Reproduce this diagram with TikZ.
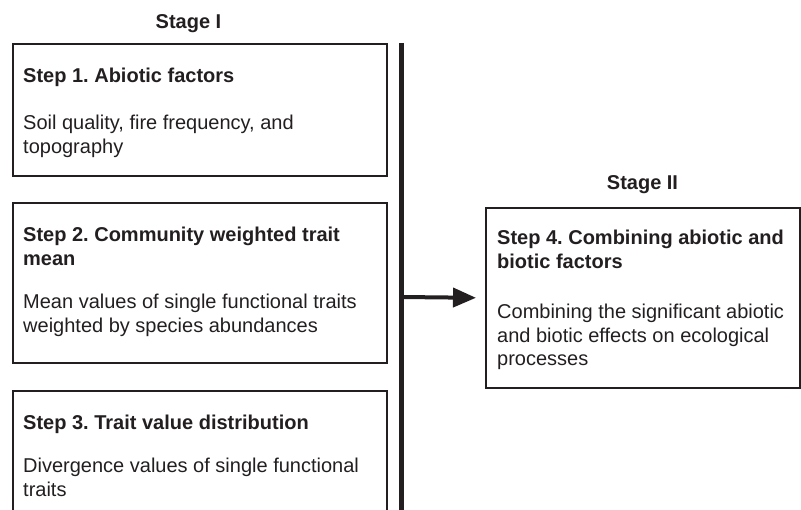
\documentclass[tikz,border=0pt]{standalone}
\usepackage{fontspec}
\setmainfont{Liberation Sans}
\usetikzlibrary{arrows.meta}
\definecolor{ink}{HTML}{231F20}
\frenchspacing
\tikzset{
  stepbox/.style={draw=ink, line width=1.8pt, rectangle, inner sep=0pt, anchor=north west},
  boxtext/.style={anchor=base west, align=left, inner sep=0pt, text=ink,
    font=\fontsize{20}{23.5}\selectfont\frenchspacing},
  boldtext/.style={boxtext, font=\fontsize{20}{23.5}\selectfont\bfseries\frenchspacing},
  stagelabel/.style={anchor=base, inner sep=0pt, text=ink, font=\fontsize{20}{24}\selectfont\bfseries},
  divider/.style={draw=ink, line width=4.3pt},
  flow/.style={draw=ink, line width=4pt, -{Triangle[length=23pt,width=19pt]}}
}
\begin{document}
\begin{tikzpicture}[x=1pt,y=-1pt]
\useasboundingbox (0,0) rectangle (801,510);
\clip (0,0) rectangle (801,510);
% stage labels
\node[stagelabel] (stageI) at (188.5,29) {Stage I};
\node[stagelabel] (stageII) at (642.5,190) {Stage II};
% boxes
\node[stepbox, minimum width=374pt, minimum height=132pt] (b1) at (12,43) {};
\node[stepbox, minimum width=374pt, minimum height=160pt] (b2) at (12,202) {};
\node[stepbox, minimum width=374pt, minimum height=140pt] (b3) at (12,390) {};
\node[stepbox, minimum width=314pt, minimum height=180pt] (b4) at (485,207) {};
% texts box 1 (base anchor = baseline of last line)
\node[boldtext] (t1) at (23,83) {Step 1. Abiotic factors};
\node[boxtext] (d1) at (23,153.5) {Soil quality, fire frequency, and\\topography};
% texts box 2
\node[boldtext] (t2) at (23,265.5) {Step 2. Community weighted trait\\mean};
\node[boxtext] (d2) at (23,332.5) {Mean values of single functional traits\\weighted by species abundances};
% texts box 3
\node[boldtext] (t3) at (23,430) {Step 3. Trait value distribution};
\node[boxtext] (d3) at (23,496.5) {Divergence values of single functional\\traits};
% texts box 4
\node[boldtext] (t4) at (497,268.5) {Step 4. Combining abiotic and\\biotic factors};
\node[boxtext] (d4) at (497,366) {Combining the significant abiotic\\and biotic effects on ecological\\processes};
% divider and arrow
\coordinate (vtop) at (401.5,43);
\coordinate (vbot) at (401.5,515);
\draw[divider] (vtop) -- (vbot);
\coordinate (astart) at (401.5,297);
\draw[flow, shorten >=9pt] (astart) -- (b4.west);
\end{tikzpicture}
\end{document}
